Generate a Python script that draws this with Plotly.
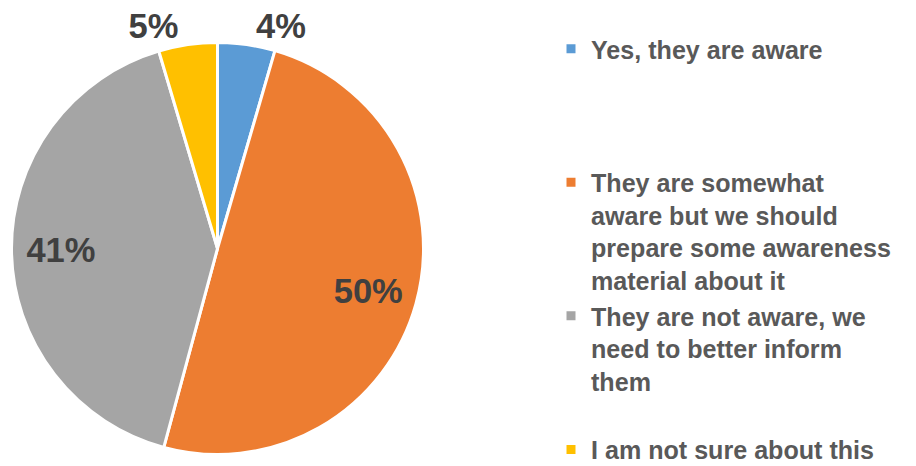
import plotly.graph_objects as go

categories = [
    "Yes, they are aware",
    "They are somewhat<br>aware but we should<br>prepare some awareness<br>material about it",
    "They are not aware, we<br>need to better inform<br>them",
    "I am not sure about this",
]
shares = [4.5, 49.7, 41.2, 4.6]
label_text = ["4%", "50%", "41%", "5%"]
colors = ["#5B9BD5", "#ED7D31", "#A5A5A5", "#FFC000"]

# pad legend entries (except the last) so every item has the same height
legend_lines = 4
padded = []
for i, c in enumerate(categories):
    n = c.count("<br>") + 1
    if i < len(categories) - 1 and n < legend_lines:
        c = c + "<br> " * (legend_lines - n)
    padded.append(c)

dom = dict(x=[3.5 / 916, 415.5 / 916], y=[19.5 / 466, 431.5 / 466])
label_font = dict(family="Liberation Sans", size=34.5, color="#404040", weight="bold")

fig = go.Figure()
# coloured pie (slices, borders, legend)
fig.add_trace(
    go.Pie(
        labels=padded,
        values=shares,
        textinfo="none",
        sort=False,
        direction="clockwise",
        rotation=0,
        marker=dict(colors=colors, line=dict(color="white", width=3)),
        domain=dom,
        hoverinfo="skip",
    )
)
# transparent ring on top that carries the percentage labels further out
fig.add_trace(
    go.Pie(
        labels=padded,
        values=shares,
        text=label_text,
        textinfo="text",
        textposition=["outside", "inside", "inside", "outside"],
        insidetextorientation="horizontal",
        hole=0.52,
        sort=False,
        direction="clockwise",
        rotation=0,
        marker=dict(colors=["rgba(0,0,0,0)"] * 4, line=dict(width=0)),
        textfont=label_font,
        domain=dom,
        showlegend=False,
        hoverinfo="skip",
    )
)

fig.update_layout(
    width=916,
    height=466,
    margin=dict(l=0, r=0, t=0, b=0, autoexpand=False),
    paper_bgcolor="white",
    plot_bgcolor="white",
    showlegend=True,
    legend=dict(
        x=543 / 916,
        xanchor="left",
        y=1 - 18 / 466,
        yanchor="top",
        valign="top",
        font=dict(family="Liberation Sans", size=25.1, color="#595959", weight="bold"),
        bgcolor="rgba(0,0,0,0)",
    ),
)

fig.write_html("out.html")
